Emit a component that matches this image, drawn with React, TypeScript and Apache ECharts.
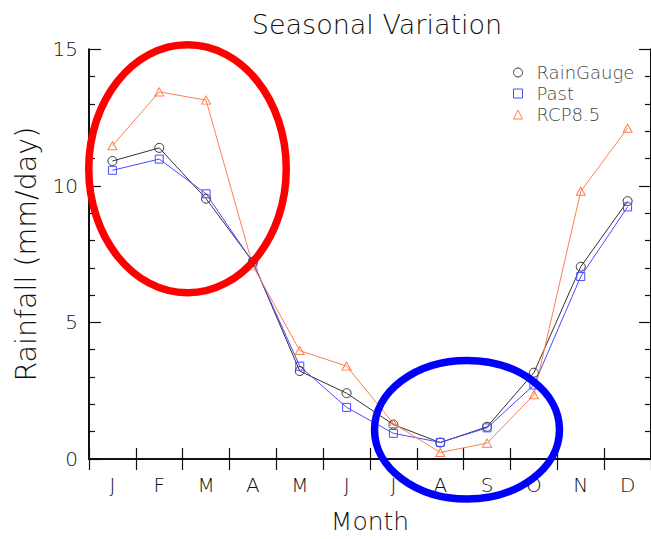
import React, { useEffect, useRef } from "react";
import * as echarts from "echarts";

// ---- data ----
const months = ["J", "F", "M", "A", "M", "J", "J", "A", "S", "O", "N", "D"];
const rainGauge = [10.91, 11.39, 9.53, 7.22, 3.22, 2.41, 1.26, 0.6, 1.18, 3.16, 7.04, 9.44];
const past = [10.57, 10.98, 9.71, 7.2, 3.4, 1.89, 0.94, 0.61, 1.14, 2.71, 6.68, 9.23];
const rcp85 = [11.47, 13.44, 13.14, 7.07, 3.97, 3.4, 1.3, 0.24, 0.58, 2.35, 9.8, 12.11];
const seriesNames = ["RainGauge", "Past", "RCP8.5"];
const yMin = 0;
const yMax = 15;
const yStep = 5;

const FONT = "DejaVu Sans";
const TXT = "#111";
const C_RG = "#333333";
const C_PAST = "#4a4aff";
const C_RCP = "#ff7f50";

export default function App() {
  const ref = useRef<HTMLDivElement>(null);

  useEffect(() => {
    if (!ref.current) return;
    const chart = echarts.init(ref.current, undefined, { renderer: "svg" });

    const axisLine = { show: true, lineStyle: { color: TXT, width: 2 } };

    const yAxisCommon = {
      type: "value",
      min: yMin,
      max: yMax,
      interval: yStep,
      axisLine,
      axisTick: { show: true, inside: true, length: 12, lineStyle: { color: TXT, width: 1.2 } },
      minorTick: { show: true, splitNumber: 5, length: 6, lineStyle: { color: TXT, width: 1.2 } },
      splitLine: { show: false },
    };

    const xAxisCommon = {
      type: "category",
      data: months,
      boundaryGap: true,
      axisLine,
      axisTick: { show: true, inside: true, length: 11, lineStyle: { color: TXT, width: 1.2 } },
      splitLine: { show: false },
    };

    const mkSeries = (name: string, data: number[], color: string, symbol: string, size: any) => ({
      name,
      type: "line",
      data,
      symbol,
      symbolSize: size,
      showSymbol: true,
      lineStyle: { color, width: 1 },
      itemStyle: { color: "rgba(0,0,0,0)", borderColor: color, borderWidth: 1 },
      emphasis: { disabled: true },
    });

    chart.setOption({
      animation: false,
      textStyle: { fontFamily: FONT },
      title: {
        text: "Seasonal Variation",
        left: 372,
        top: 6,
        textAlign: "center",
        textStyle: { fontFamily: FONT, fontSize: 27, fontWeight: 300, color: TXT },
      },
      grid: { left: 89, top: 49.3, width: 566, height: 415.2, containLabel: false },
      legend: {
        orient: "vertical",
        left: 513,
        top: 63.5,
        itemWidth: 9,
        itemHeight: 9,
        itemGap: 3,
        padding: 0,
        textStyle: { fontFamily: FONT, fontSize: 18, fontWeight: 300, color: "#444", lineHeight: 18, padding: [0, 0, 0, 9] },
        data: [
          { name: seriesNames[0], icon: "circle", itemStyle: { color: "rgba(0,0,0,0)", borderColor: C_RG, borderWidth: 1 } },
          { name: seriesNames[1], icon: "rect", itemStyle: { color: "rgba(0,0,0,0)", borderColor: C_PAST, borderWidth: 1 } },
          { name: seriesNames[2], icon: "triangle", itemStyle: { color: "rgba(0,0,0,0)", borderColor: C_RCP, borderWidth: 1 } },
        ],
      },
      xAxis: [
        {
          ...xAxisCommon,
          position: "bottom",
          name: "Month",
          nameLocation: "middle",
          nameGap: 50,
          nameTextStyle: { fontFamily: FONT, fontSize: 25, fontWeight: 300, color: TXT },
          axisLabel: { show: true, margin: 16, fontFamily: FONT, fontSize: 20, fontWeight: 300, color: TXT },
        },
        {
          ...xAxisCommon,
          position: "top",
          axisLabel: { show: false },
        },
      ],
      yAxis: [
        {
          ...yAxisCommon,
          position: "left",
          name: "Rainfall (mm/day)",
          nameLocation: "middle",
          nameGap: 48,
          nameRotate: 90,
          nameTextStyle: { fontFamily: FONT, fontSize: 28.5, fontWeight: 300, color: TXT },
          axisLabel: { show: true, margin: 11, fontFamily: FONT, fontSize: 20, fontWeight: 300, color: TXT },
        },
        {
          ...yAxisCommon,
          position: "right",
          axisLabel: { show: false },
        },
      ],
      series: [
        mkSeries(seriesNames[0], rainGauge, C_RG, "circle", 9),
        mkSeries(seriesNames[1], past, C_PAST, "rect", 8),
        mkSeries(seriesNames[2], rcp85, C_RCP, "triangle", [9, 8]),
      ],
      graphic: [
        {
          type: "ellipse",
          z: 100,
          silent: true,
          shape: { cx: 187.5, cy: 168.8, rx: 98.75, ry: 124 },
          style: { fill: "none", stroke: "#ff0000", lineWidth: 7.5 },
        },
        {
          type: "ellipse",
          z: 100,
          silent: true,
          shape: { cx: 467, cy: 429.7, rx: 92.5, ry: 69.3 },
          style: { fill: "none", stroke: "#0000ff", lineWidth: 7.5 },
        },
      ],
    });

    return () => chart.dispose();
  }, []);

  return (
    <div
      ref={ref}
      style={{ position: "fixed", left: 0, top: 0, width: 651, height: 539, background: "#fff" }}
    />
  );
}
